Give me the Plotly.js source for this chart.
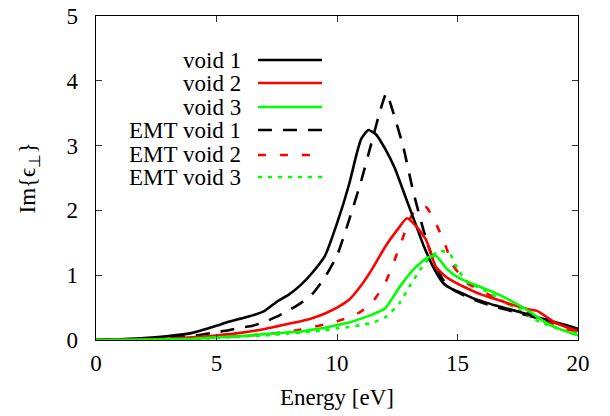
<!DOCTYPE html>
<html>
<head>
<meta charset="utf-8">
<script src="https://cdn.plot.ly/plotly-3.0.1.min.js"></script>
<style>html,body{margin:0;padding:0;background:#fff;}#chart{width:610px;height:416px;}</style>
</head>
<body>
<div id="chart"></div>
<script>
// ---- data ----
var seriesNames = ["void 1", "void 2", "void 3", "EMT void 1", "EMT void 2", "EMT void 3"];

var void1E = [0,1,2,3,4,5,5.5,6,6.5,7,7.5,8,8.5,9,9.5,10,10.5,10.8,11.0,11.3,11.6,12.0,12.4,12.8,13.2,13.6,14.0,14.4,14.8,15.2,15.6,16,16.5,17,17.5,18,18.5,19,19.5,20];
var void1Y = [0,0.01,0.03,0.06,0.11,0.22,0.28,0.33,0.38,0.45,0.59,0.70,0.85,1.05,1.30,1.80,2.40,2.85,3.10,3.24,3.18,2.95,2.65,2.25,1.85,1.45,1.12,0.88,0.78,0.72,0.65,0.60,0.54,0.49,0.44,0.39,0.33,0.28,0.23,0.17];

var void2E = [0,1,2,3,4,5,6,7,7.5,8,8.5,9,9.5,10,10.5,11,11.5,12,12.5,12.9,13.3,13.7,14.1,14.5,15,15.5,16,16.5,17,17.5,18,18.3,18.6,19,19.5,20];
var void2Y = [0,0.005,0.01,0.02,0.04,0.07,0.11,0.17,0.21,0.25,0.29,0.34,0.41,0.50,0.62,0.84,1.12,1.44,1.70,1.88,1.75,1.54,1.13,0.98,0.87,0.78,0.70,0.64,0.58,0.52,0.47,0.45,0.38,0.28,0.20,0.14];

var void3E = [0,1,2,3,4,5,6,7,8,8.5,9,9.5,10,10.5,11,11.5,12,12.6,13.15,13.7,14.1,14.55,15,15.4,16,16.6,17.3,17.9,18.7,19.3,20];
var void3Y = [0,0.003,0.006,0.01,0.02,0.04,0.06,0.09,0.12,0.13,0.16,0.19,0.23,0.27,0.33,0.40,0.49,0.82,1.08,1.26,1.30,1.10,0.97,0.90,0.81,0.72,0.59,0.46,0.26,0.16,0.07];

var emt1E = [0,1,2,3,4,5,5.5,6,6.5,7,7.5,8,8.5,9,9.5,10,10.5,11,11.4,11.8,12.05,12.3,12.75,13.15,13.6,14.0,14.4,14.8,15.2,15.6,16,16.5,17,17.5,18,18.5,19,19.5,20];
var emt1Y = [0,0.01,0.02,0.04,0.06,0.12,0.15,0.19,0.22,0.28,0.36,0.46,0.57,0.72,0.97,1.3,1.85,2.45,3.0,3.55,3.81,3.55,2.98,2.31,1.68,1.23,0.93,0.78,0.70,0.63,0.58,0.52,0.47,0.42,0.37,0.32,0.27,0.22,0.17];

var emt2E = [0,1,2,3,4,5,6,7,8,8.5,9,9.5,10,10.5,11,11.5,12,12.6,13.0,13.3,13.7,14.1,14.5,14.8,15.4,16.2,17.2,17.9,18.4,19.4,20];
var emt2Y = [0,0.003,0.006,0.01,0.02,0.04,0.06,0.09,0.13,0.16,0.2,0.24,0.29,0.35,0.44,0.6,0.88,1.44,1.85,2.03,2.05,1.8,1.46,1.16,0.88,0.72,0.54,0.42,0.34,0.18,0.13];

var emt3E = [0,1,2,3,4,5,6,7,8,9,9.5,10,10.5,11,11.5,12,12.6,13.0,13.45,13.9,14.3,14.7,15.0,15.4,16.1,16.8,17.6,18.4,19.4,20];
var emt3Y = [0,0.002,0.004,0.008,0.015,0.03,0.05,0.07,0.1,0.13,0.15,0.18,0.2,0.23,0.27,0.35,0.57,0.82,1.08,1.29,1.38,1.32,1.1,0.9,0.77,0.62,0.46,0.28,0.15,0.12];

var xTicks = [0, 5, 10, 15, 20];
var yTicks = [0, 1, 2, 3, 4, 5];

// ---- styles ----
var colors = ["#000000", "#ff0000", "#00ff00", "#000000", "#ff0000", "#00ff00"];
var dashes = ["solid", "solid", "solid", "14px,11px", "8px,14px", "4px,6px"];
var W = 2.6;
var FONT = "Liberation Serif";

var xs = [void1E, void2E, void3E, emt1E, emt2E, emt3E];
var ys = [void1Y, void2Y, void3Y, emt1Y, emt2Y, emt3Y];

var order = [3, 4, 5, 0, 1, 2];
var traces = order.map(function (i) {
  return {
    x: xs[i], y: ys[i], type: "scatter", mode: "lines", name: seriesNames[i],
    line: {color: colors[i], width: W, dash: dashes[i], shape: "spline", smoothing: 0.5},
    showlegend: false, hoverinfo: "skip"
  };
});

// legend drawn as text + sample lines (text left of sample, like gnuplot)
var legTextX = 0.305, legX0 = 0.336, legX1 = 0.469;
var legY = [0.864, 0.793, 0.719, 0.648, 0.571, 0.503];
var annotations = [];
var shapes = [];
seriesNames.forEach(function (n, i) {
  annotations.push({
    xref: "paper", yref: "paper", x: legTextX, y: legY[i], text: n,
    showarrow: false, xanchor: "right", yanchor: "middle",
    font: {family: FONT, size: 23, color: "#000"}
  });
  shapes.push({
    type: "line", xref: "paper", yref: "paper",
    x0: legX0, x1: (i === 4 ? 0.462 : legX1), y0: legY[i], y1: legY[i],
    line: {color: colors[i], width: W, dash: dashes[i]}
  });
});

var axisCommon = {
  showgrid: false, zeroline: false, showline: true, linecolor: "#000", linewidth: 1.3,
  mirror: "ticks", ticks: "inside", ticklen: 6, tickwidth: 1, tickcolor: "#333",
  tickfont: {family: FONT, size: 23, color: "#000"}
};

var layout = {
  width: 610, height: 416,
  margin: {l: 96, r: 32, t: 16, b: 76},
  paper_bgcolor: "#fff", plot_bgcolor: "#fff",
  showlegend: false,
  font: {family: FONT, size: 23, color: "#000"},
  xaxis: Object.assign({}, axisCommon, {
    range: [0, 20], tickvals: xTicks, ticktext: xTicks.map(String),
    ticklabelstandoff: 2,
    title: {text: "Energy [eV]", font: {family: FONT, size: 23}, standoff: 14}
  }),
  yaxis: Object.assign({}, axisCommon, {
    range: [0, 5], tickvals: yTicks, ticktext: yTicks.map(String),
    ticklabelstandoff: 12,
    title: {text: "Im{ϵ<sub>⊥</sub>}", font: {family: FONT, size: 23}, standoff: 24}
  }),
  annotations: annotations,
  shapes: shapes
};

Plotly.newPlot("chart", traces, layout, {staticPlot: true, displayModeBar: false});
</script>
</body>
</html>
